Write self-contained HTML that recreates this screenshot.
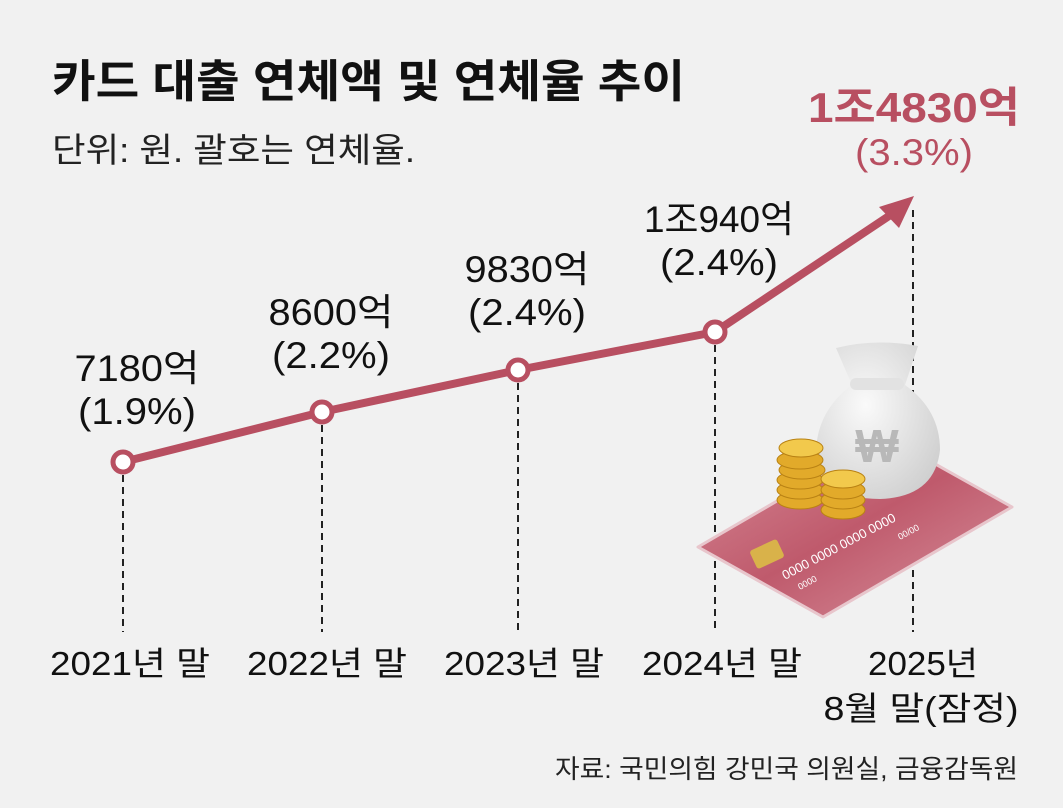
<!DOCTYPE html>
<html><head><meta charset="utf-8"><style>
html,body{margin:0;padding:0;background:#f1f1f1;}
svg{display:block;font-family:"Liberation Sans","Noto Sans CJK KR",sans-serif;}
</style></head><body>
<svg width="1063" height="808" viewBox="0 0 1063 808" xmlns="http://www.w3.org/2000/svg">
<rect width="1063" height="808" fill="#f1f1f1"/>
<text x="52" y="97" font-size="45" font-weight="bold" fill="#111" textLength="633" lengthAdjust="spacingAndGlyphs">카드 대출 연체액 및 연체율 추이</text>
<text x="52" y="162" font-size="34" fill="#222" textLength="363" lengthAdjust="spacingAndGlyphs">단위: 원. 괄호는 연체율.</text>
<g stroke="#222" stroke-width="2" stroke-dasharray="7,5">
<line x1="123" y1="475" x2="123" y2="632"/>
<line x1="322" y1="425" x2="322" y2="632"/>
<line x1="518" y1="383" x2="518" y2="632"/>
<line x1="715" y1="345" x2="715" y2="632"/>
<line x1="913" y1="210" x2="913" y2="632"/>
</g>
<defs><linearGradient id="cg" x1="0" y1="0" x2="1" y2="1"><stop offset="0" stop-color="#d78a97"/><stop offset="0.5" stop-color="#bf5a6c"/><stop offset="1" stop-color="#d8939f"/></linearGradient>
<radialGradient id="bg" cx="0.4" cy="0.4" r="0.7"><stop offset="0" stop-color="#fafafa"/><stop offset="1" stop-color="#cfcfcf"/></radialGradient></defs>
<polygon points="698,547 887,437 1012,507 823,617" fill="url(#cg)" stroke="#e8c6cc" stroke-width="3" stroke-linejoin="round"/>
<rect x="752" y="544" width="30" height="20" rx="3" fill="#d9b24a" transform="rotate(-25 767 554)"/>
<text x="785" y="580" fill="#fff" font-size="13" transform="rotate(-28 785 580)">0000  0000  0000  0000</text>
<text x="800" y="590" fill="#fff" font-size="9" transform="rotate(-28 800 590)">0000</text>
<text x="900" y="540" fill="#fff" font-size="9" transform="rotate(-28 900 540)">00/00</text>
<path d="M836 348 Q875 338 918 346 L905 385 Q940 410 940 450 Q935 497 880 499 Q820 499 816 450 Q818 410 852 385 Z" fill="url(#bg)"/>
<rect x="850" y="378" width="54" height="12" rx="6" fill="#e2e2e2"/>
<text x="877" y="462" font-size="46" font-weight="bold" fill="#b8b8b8" text-anchor="middle">₩</text>
<g fill="#e2aa2a" stroke="#b98214" stroke-width="1">
<ellipse cx="800" cy="500" rx="23" ry="9"/><ellipse cx="800" cy="490" rx="23" ry="9"/><ellipse cx="800" cy="480" rx="23" ry="9"/><ellipse cx="802" cy="470" rx="23" ry="9"/><ellipse cx="800" cy="460" rx="23" ry="9"/><ellipse cx="801" cy="448" rx="22" ry="9" fill="#f2c94c"/>
<ellipse cx="843" cy="510" rx="22" ry="9"/><ellipse cx="843" cy="500" rx="22" ry="9"/><ellipse cx="843" cy="490" rx="22" ry="9"/><ellipse cx="843" cy="479" rx="22" ry="9" fill="#f2c94c"/>
</g>
<polyline points="123,462 322,412 518,370 715,332 898,210" fill="none" stroke="#b84f61" stroke-width="8" stroke-linejoin="round"/>
<polygon points="914,196 879,207 899,228" fill="#b84f61"/>
<g fill="#fff" stroke="#b84f61" stroke-width="5">
<circle cx="123" cy="462" r="10"/><circle cx="322" cy="412" r="10"/><circle cx="518" cy="370" r="10"/><circle cx="715" cy="332" r="10"/>
</g>
<g font-size="37" fill="#111" text-anchor="middle" lengthAdjust="spacingAndGlyphs">
<text x="137" y="381" textLength="125" lengthAdjust="spacingAndGlyphs">7180억</text><text x="137" y="424" textLength="118" lengthAdjust="spacingAndGlyphs">(1.9%)</text>
<text x="331" y="325" textLength="125" lengthAdjust="spacingAndGlyphs">8600억</text><text x="331" y="368" textLength="118" lengthAdjust="spacingAndGlyphs">(2.2%)</text>
<text x="527" y="282" textLength="125" lengthAdjust="spacingAndGlyphs">9830억</text><text x="527" y="325" textLength="118" lengthAdjust="spacingAndGlyphs">(2.4%)</text>
<text x="719" y="232" textLength="150" lengthAdjust="spacingAndGlyphs">1조940억</text><text x="719" y="275" textLength="118" lengthAdjust="spacingAndGlyphs">(2.4%)</text>
</g>
<text x="914" y="122" font-size="42" font-weight="bold" fill="#b84f61" text-anchor="middle" textLength="212" lengthAdjust="spacingAndGlyphs">1조4830억</text>
<text x="914" y="165" font-size="37" fill="#b84f61" text-anchor="middle" textLength="118" lengthAdjust="spacingAndGlyphs">(3.3%)</text>
<g font-size="33" fill="#111" text-anchor="middle">
<text x="130" y="675" textLength="160" lengthAdjust="spacingAndGlyphs">2021년 말</text>
<text x="327" y="675" textLength="160" lengthAdjust="spacingAndGlyphs">2022년 말</text>
<text x="524" y="675" textLength="160" lengthAdjust="spacingAndGlyphs">2023년 말</text>
<text x="722" y="675" textLength="160" lengthAdjust="spacingAndGlyphs">2024년 말</text>
<text x="923" y="675" textLength="110" lengthAdjust="spacingAndGlyphs">2025년</text>
<text x="921" y="720" textLength="195" lengthAdjust="spacingAndGlyphs">8월 말(잠정)</text>
</g>
<text x="1018" y="778" font-size="26" fill="#222" text-anchor="end" textLength="463" lengthAdjust="spacingAndGlyphs">자료: 국민의힘 강민국 의원실, 금융감독원</text>
</svg>
</body></html>
